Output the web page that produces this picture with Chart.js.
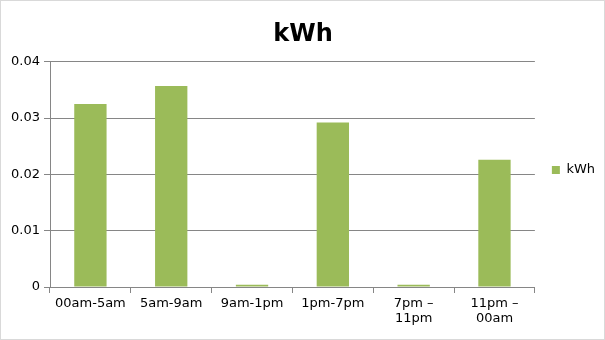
<!DOCTYPE html>
<html>
<head>
<meta charset="utf-8">
<script src="https://cdn.jsdelivr.net/npm/chart.js@4"></script>
<style>
  html, body { margin: 0; padding: 0; background: #fff; }
  #wrap { position: relative; width: 605px; height: 340px; box-sizing: border-box; border: 1px solid #d9d9d9; overflow: hidden; }
  canvas { display: block; }
</style>
</head>
<body>
<div id="wrap"><canvas id="chart_canvas" width="603" height="338"></canvas></div>
<script>
var categories = ['00am-5am', '5am-9am', '9am-1pm', '1pm-7pm', ['7pm \u2013', '11pm'], ['11pm \u2013', '00am']];
var kwh_values = [0.0325, 0.0357, 0.0004, 0.0292, 0.0004, 0.0226];
var y_ticks = [0, 0.01, 0.02, 0.03, 0.04];

Chart.defaults.font.family = "'DejaVu Sans', Verdana, sans-serif";
Chart.defaults.color = '#000';

var ctx = document.getElementById('chart_canvas').getContext('2d');
window.kwh_chart = new Chart(ctx, {
  type: 'bar',
  data: {
    labels: categories,
    datasets: [{
      label: 'kWh',
      data: kwh_values,
      backgroundColor: '#9bbb59',
      borderWidth: 0,
      barPercentage: 0.4,
      categoryPercentage: 1
    }]
  },
  options: {
    responsive: false,
    animation: false,
    layout: { padding: { left: 0, right: -1, top: 0, bottom: 0 } },
    plugins: {
      title: {
        display: true,
        text: 'kWh',
        font: { size: 24, weight: 'bold' },
        color: '#000',
        padding: { top: 19, bottom: 13 }
      },
      legend: {
        position: 'right',
        labels: { boxWidth: 8, boxHeight: 8, font: { size: 13 }, padding: 17 }
      },
      tooltip: { enabled: false }
    },
    scales: {
      x: {
        afterFit: function(axis) { axis.height = 52; },
        grid: { drawOnChartArea: false, drawTicks: true, tickLength: 6, color: '#868686' },
        border: { color: '#868686' },
        ticks: { font: { size: 13, lineHeight: 1.15 }, maxRotation: 0, autoSkip: false, padding: 3 }
      },
      y: {
        min: 0,
        max: 0.04,
        afterBuildTicks: function(axis) {
          axis.ticks = y_ticks.map(function(v){ return { value: v }; });
        },
        afterFit: function(axis) { axis.width = 49; },
        grid: { color: '#868686', tickLength: 6 },
        border: { color: '#868686' },
        ticks: {
          font: { size: 13 },
          padding: 4,
          callback: function(v) { return String(v); }
        }
      }
    }
  }
});
</script>
</body>
</html>
